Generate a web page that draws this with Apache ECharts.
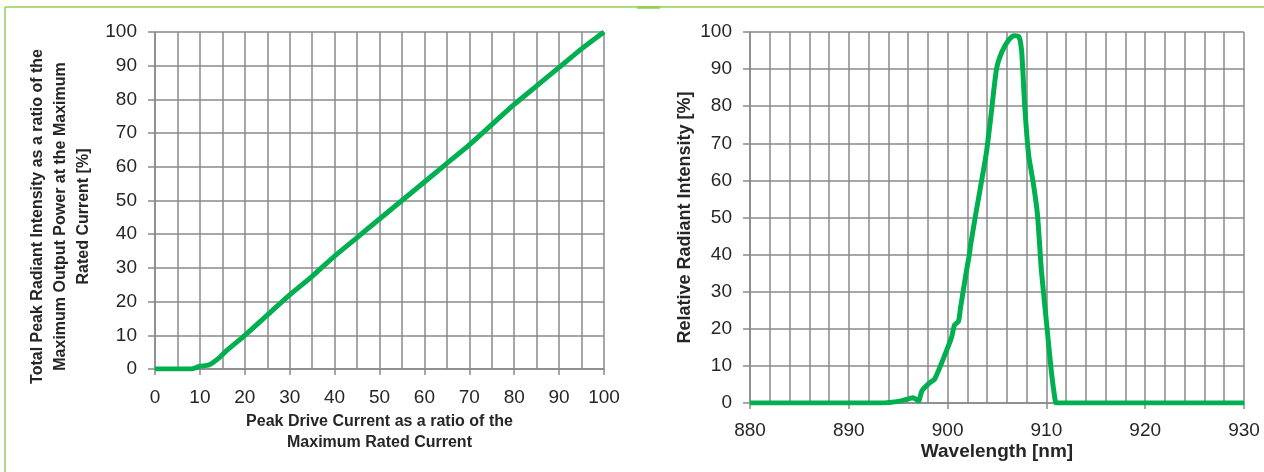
<!DOCTYPE html>
<html>
<head>
<meta charset="utf-8">
<script src="https://cdn.jsdelivr.net/npm/echarts@6/dist/echarts.min.js"></script>
<style>
html,body{margin:0;padding:0;background:#fff;}
#c{width:1264px;height:472px;}
</style>
</head>
<body>
<div id="c"></div>
<script>
// Left chart: Peak Drive Current [%] vs Total Peak Radiant Intensity [%]
var currentX = [0, 8, 10, 12, 14, 16, 20, 25, 30, 35, 40, 45, 50, 55, 60, 65, 70, 75, 80, 85, 90, 95, 100];
var intensityY = [0, 0, 0.8, 1.2, 3, 5.5, 10, 16, 22, 27.5, 33.5, 39, 44.5, 50, 55.5, 61, 66.5, 72.5, 78.5, 84, 89.5, 95, 100];

// Right chart: Wavelength [nm] vs Relative Radiant Intensity [%]
var wavelength = [880, 893.2, 895.2, 896.5, 897.06, 897.4, 898.2, 898.7, 899.5, 900.4, 900.7, 901.1, 901.3, 901.9, 902.2, 902.35, 902.9, 903.9, 904.4, 904.95, 905.5, 906.2, 906.7, 907.2, 907.5, 907.8, 908.2, 908.7, 909.1, 909.5, 910.0, 910.5, 910.9, 911.0, 916, 930];
var relIntensity = [0, 0, 0.5, 1.4, 0.6, 3.3, 5.5, 6.5, 11.5, 17.7, 21, 22, 25.5, 35.5, 40, 43, 51.7, 67, 77.7, 90, 94.7, 97.9, 99, 98.8, 94.6, 80.3, 66.9, 58.8, 50.7, 35.5, 22, 8.5, 0.5, 0, 0, 0];

var leftXTicks = {min: 0, max: 100, interval: 10};
var leftYTicks = {min: 0, max: 100, interval: 10};
var rightXTicks = {min: 880, max: 930, interval: 10};
var rightYTicks = {min: 0, max: 100, interval: 10};

function pairs(xs, ys) { return xs.map(function (x, i) { return [x, ys[i]]; }); }

var GRID = '#8a8a8a';
var LINE = '#00b050';
var TXT = '#262626';
var FONT = '"Liberation Sans", Arial, sans-serif';

function xAx(idx, t, minorN, name, nameGap, nameSize, lh, margin) {
  return {
    type: 'value', gridIndex: idx, min: t.min, max: t.max, interval: t.interval,
    name: name, nameLocation: 'middle', nameGap: nameGap, nameMoveOverlap: false,
    nameTextStyle: {fontFamily: FONT, fontWeight: 'bold', fontSize: nameSize, color: TXT, lineHeight: lh},
    axisLine: {show: true, onZero: false, lineStyle: {color: GRID, width: 1.5}},
    axisTick: {show: true, inside: false, length: 6, lineStyle: {color: GRID, width: 1.5}},
    axisLabel: {fontFamily: FONT, fontSize: 19, color: TXT, margin: margin},
    splitLine: {show: true, lineStyle: {color: GRID, width: 1.5}},
    minorTick: {show: false, splitNumber: minorN},
    minorSplitLine: {show: true, lineStyle: {color: GRID, width: 1.5}}
  };
}
function yAx(idx, t, name, nameGap, nameSize, lh, pad) {
  return {
    type: 'value', gridIndex: idx, min: t.min, max: t.max, interval: t.interval,
    name: name, nameLocation: 'middle', nameGap: nameGap, nameRotate: 90, nameMoveOverlap: false,
    nameTextStyle: {fontFamily: FONT, fontWeight: 'bold', fontSize: nameSize, color: TXT, lineHeight: lh, padding: pad},
    axisLine: {show: true, lineStyle: {color: GRID, width: 1.5}},
    axisTick: {show: true, inside: false, length: 7, lineStyle: {color: GRID, width: 1.5}},
    axisLabel: {fontFamily: FONT, fontSize: 19, color: TXT, margin: 18},
    splitLine: {show: true, lineStyle: {color: GRID, width: 1.5}}
  };
}

var chart = echarts.init(document.getElementById('c'), null, {renderer: 'canvas'});
chart.setOption({
  backgroundColor: '#fff',
  animation: false,
  grid: [
    {left: 155, right: 660, top: 32, bottom: 103, containLabel: false, outerBoundsMode: 'none'},
    {left: 750, right: 20, top: 32, bottom: 69, containLabel: false, outerBoundsMode: 'none'}
  ],
  xAxis: [
    xAx(0, leftXTicks, 2, 'Peak Drive Current as a ratio of the\nMaximum Rated Current', 42.5, 16, 21, 19),
    xAx(1, rightXTicks, 5, 'Wavelength [nm]', 37, 19, 24, 18)
  ],
  yAxis: [
    yAx(0, leftYTicks, 'Total Peak Radiant Intensity as a ratio of the\nMaximum Output Power at the Maximum\nRated Current [%]', 60, 16, 23, [0, 32, 0, 0]),
    yAx(1, rightYTicks, 'Relative Radiant Intensity [%]', 54, 18, 22, 0)
  ],
  series: [
    {type: 'line', xAxisIndex: 0, yAxisIndex: 0, data: pairs(currentX, intensityY), showSymbol: false, symbol: 'none',
     lineStyle: {color: LINE, width: 5}, smooth: 0.2},
    {type: 'line', xAxisIndex: 1, yAxisIndex: 1, data: pairs(wavelength, relIntensity), showSymbol: false, symbol: 'none',
     lineStyle: {color: LINE, width: 5}, smooth: 0.2}
  ],
  graphic: [
    {type: 'line', shape: {x1: 5, y1: 7, x2: 1264, y2: 7}, style: {stroke: '#92d050', lineWidth: 1.5}, silent: true},
    {type: 'line', shape: {x1: 5, y1: 7, x2: 5, y2: 472}, style: {stroke: '#92d050', lineWidth: 1.5}, silent: true},
    {type: 'line', shape: {x1: 637, y1: 7.5, x2: 660, y2: 7.5}, style: {stroke: '#92d050', lineWidth: 2.5}, silent: true}
  ]
});
</script>
</body>
</html>
